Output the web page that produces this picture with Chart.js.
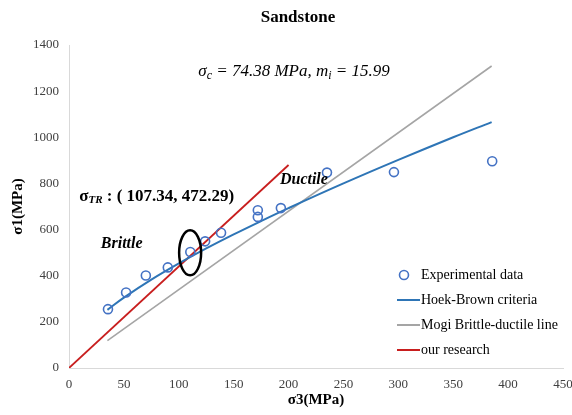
<!DOCTYPE html>
<html>
<head>
<meta charset="utf-8">
<script src="https://cdn.jsdelivr.net/npm/chart.js@4.4.0/dist/chart.umd.min.js"></script>
<style>
  html, body { margin: 0; padding: 0; background: #fff; }
  #wrap { width: 572px; height: 415px; }
</style>
</head>
<body>
<div id="wrap"><canvas id="mycanvas" width="572" height="415"></canvas></div>
<script>
// experimental data (sigma3, sigma1)
var expS3 = [35.5, 52, 70, 90, 110.5, 124, 138.5, 172, 172, 193, 235, 296, 385.5];
var expS1 = [255, 327, 401, 436, 503, 549, 586, 684, 655, 693, 847, 849, 896];

// Hoek-Brown criteria curve
var hbS3 = [35, 50, 75, 100, 125, 150, 175, 200, 250, 300, 350, 385];
var hbS1 = [252, 305, 383, 453, 518, 579, 637, 693, 800, 902, 1000, 1066];

// Mogi brittle-ductile line
var mogiS3 = [35, 385];
var mogiS1 = [119, 1309];

// our research line
var ourS3 = [0, 200];
var ourS1 = [0, 880];

var xTicks = [0, 50, 100, 150, 200, 250, 300, 350, 400, 450];
var yTicks = [0, 200, 400, 600, 800, 1000, 1200, 1400];

var trPoint = [107.34, 472.29];

function pts(xs, ys) {
	var out = [];
	for (var i in xs) {
		out.push({x: xs[i], y: ys[i]});
	}
	return out;
}

var serif = "'Liberation Serif', 'Times New Roman', serif";

var chartdata = {
	datasets: [
		{
			label: "Experimental data",
			data: pts(expS3, expS1),
			showLine: false,
			pointRadius: 4.5,
			pointBorderWidth: 1.6,
			borderColor: "#4472C4",
			backgroundColor: "rgba(0,0,0,0)",
			order: 0
		},
		{
			label: "Hoek-Brown criteria",
			data: pts(hbS3, hbS1),
			showLine: true,
			pointRadius: 0,
			borderWidth: 2,
			tension: 0.4,
			borderColor: "#2E75B6",
			backgroundColor: "#2E75B6",
			order: 1
		},
		{
			label: "Mogi Brittle-ductile line",
			data: pts(mogiS3, mogiS1),
			showLine: true,
			pointRadius: 0,
			borderWidth: 1.6,
			borderColor: "#A5A5A5",
			backgroundColor: "#A5A5A5",
			order: 2
		},
		{
			label: "our research",
			data: pts(ourS3, ourS1),
			showLine: true,
			pointRadius: 0,
			borderWidth: 1.8,
			borderColor: "#C81E1E",
			backgroundColor: "#C81E1E",
			order: 3
		}
	]
};

// title, annotations and legend
var extras = {
	id: "extras",
	afterDraw: function(chart) {
		var ctx = chart.ctx;
		var xs = chart.scales.x, ys = chart.scales.y;
		ctx.save();

		// title
		ctx.fillStyle = "#000";
		ctx.textAlign = "center";
		ctx.textBaseline = "middle";
		ctx.font = "bold 17px " + serif;
		ctx.fillText("Sandstone", 298, 18);

		// formula
		var fx = xs.getPixelForValue(205), fy = ys.getPixelForValue(1283);
		var parts = [["σ", 17, 0], ["c", 12, 4], [" = 74.38 ", 17, 0], ["MPa", 17, 0], [", ", 17, 0], ["m", 17, 0], ["i", 12, 4], [" = 15.99", 17, 0]];
		var total = 0;
		parts.forEach(function(p) { ctx.font = "italic " + p[1] + "px " + serif; total += ctx.measureText(p[0]).width; });
		var cx = fx - total / 2;
		ctx.textAlign = "left";
		parts.forEach(function(p) {
			ctx.font = "italic " + p[1] + "px " + serif;
			ctx.fillText(p[0], cx, fy + p[2]);
			cx += ctx.measureText(p[0]).width;
		});

		// sigma TR label
		var tx = xs.getPixelForValue(80.5), ty = ys.getPixelForValue(745);
		var tparts = [["σ", 17, 0], ["TR", 11, 4], [" : ( 107.34, 472.29)", 17, 0]];
		total = 0;
		tparts.forEach(function(p) { ctx.font = "bold " + p[1] + "px " + serif; total += ctx.measureText(p[0]).width; });
		cx = tx - total / 2;
		tparts.forEach(function(p) {
			ctx.font = (p[0] == "TR" ? "bold italic " : "bold ") + p[1] + "px " + serif;
			ctx.fillText(p[0], cx, ty + p[2]);
			cx += ctx.measureText(p[0]).width;
		});

		// brittle / ductile
		ctx.textAlign = "center";
		ctx.font = "bold italic 16px " + serif;
		ctx.fillText("Brittle", xs.getPixelForValue(48), ys.getPixelForValue(539));
		ctx.fillText("Ductile", xs.getPixelForValue(214), ys.getPixelForValue(817));

		// ellipse around transition point
		ctx.beginPath();
		ctx.ellipse(xs.getPixelForValue(trPoint[0] + 3), ys.getPixelForValue(trPoint[1] + 27), 11, 22.5, 0, 0, Math.PI * 2);
		ctx.lineWidth = 2.5;
		ctx.strokeStyle = "#000";
		ctx.stroke();

		// legend
		var lx = 397, ly = 275, step = 25;
		ctx.font = "14px " + serif;
		ctx.textAlign = "left";
		chart.data.datasets.forEach(function(ds, i) {
			var y = ly + i * step;
			if (i == 0) {
				ctx.beginPath();
				ctx.arc(lx + 7, y, 4.5, 0, Math.PI * 2);
				ctx.lineWidth = 1.6;
				ctx.strokeStyle = ds.borderColor;
				ctx.stroke();
			} else {
				ctx.beginPath();
				ctx.moveTo(lx, y);
				ctx.lineTo(lx + 23, y);
				ctx.lineWidth = 2;
				ctx.strokeStyle = ds.borderColor;
				ctx.stroke();
			}
			ctx.fillStyle = "#000";
			ctx.fillText(ds.label, lx + 24, y);
		});
		ctx.restore();
	}
};

var ctx = document.getElementById("mycanvas");

var graph = new Chart(ctx, {
	type: "scatter",
	data: chartdata,
	plugins: [extras],
	options: {
		responsive: false,
		animation: false,
		devicePixelRatio: 1,
		layout: { padding: { top: 45, right: 9, left: 0, bottom: 0 } },
		plugins: {
			legend: { display: false },
			tooltip: { enabled: false },
			title: { display: false }
		},
		scales: {
			x: {
				type: "linear",
				min: 0,
				max: 450,
				afterBuildTicks: function(s) { s.ticks = xTicks.map(function(v) { return {value: v}; }); },
				grid: { display: false, drawTicks: false },
				border: { display: true, color: "#D9D9D9", width: 1 },
				ticks: { color: "#404040", padding: 9, maxRotation: 0, font: { family: serif, size: 13 },
					callback: function(v) { return String(v); } },
				title: {
					display: true,
					text: "σ3(MPa)",
					color: "#000",
					font: { family: serif, size: 15, weight: "bold" },
					padding: { top: 4, bottom: 6 }
				},
				afterFit: function(s) { s.height = 47; s.paddingLeft = 0; s.paddingRight = 0; }
			},
			y: {
				type: "linear",
				min: 0,
				max: 1400,
				afterBuildTicks: function(s) { s.ticks = yTicks.map(function(v) { return {value: v}; }); },
				grid: { display: false, drawTicks: false },
				border: { display: true, color: "#D9D9D9", width: 1 },
				ticks: { color: "#404040", padding: 10, font: { family: serif, size: 13 },
					callback: function(v) { return String(v); } },
				title: {
					display: true,
					text: "σ1(MPa)",
					color: "#000",
					font: { family: serif, size: 15, weight: "bold" },
					padding: { top: 9, bottom: 0 }
				},
				afterFit: function(s) { s.width = 69; s.paddingTop = 0; s.paddingBottom = 0; }
			}
		}
	}
});
</script>
</body>
</html>
